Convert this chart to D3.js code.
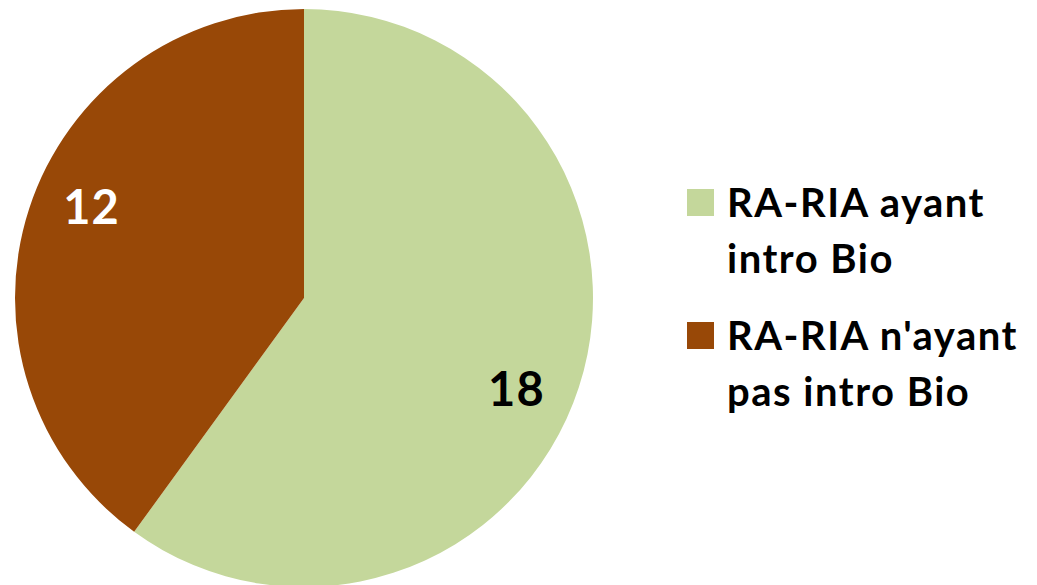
<!DOCTYPE html>
<html>
<head>
  <meta charset="utf-8">
  <script src="https://d3js.org/d3.v7.min.js"></script>
  <style>
    body { margin: 0; background: #fff; }
    text { font-family: Lato, "Open Sans", sans-serif; font-weight: bold; }
  </style>
</head>
<body>
<div id="chart"></div>
<script>
// data
var categories = ["RA-RIA ayant intro Bio", "RA-RIA n'ayant pas intro Bio"];
var values = [18, 12];
var legendLines = [["RA-RIA ayant", "intro Bio"], ["RA-RIA n'ayant", "pas intro Bio"]];
var colors = ["#C4D79B", "#984807"];
var labelColors = ["#000000", "#ffffff"];

var width = 1037, height = 585;
var cx = 304, cy = 298, radius = 289;

var svg = d3.select("#chart")
  .append("svg")
    .attr("width", width)
    .attr("height", height);

var g = svg.append("g")
    .attr("transform", "translate(" + cx + "," + cy + ")");

var pie = d3.pie().sort(null).value(function (d) { return d; });
var arcs = pie(values);

var arc = d3.arc().innerRadius(0).outerRadius(radius);

g.selectAll("path")
  .data(arcs)
  .enter()
  .append("path")
    .attr("d", arc)
    .attr("fill", function (d, i) { return colors[i]; });

// data labels
g.selectAll(".lbl")
  .data(arcs)
  .enter()
  .append("text")
    .attr("class", "lbl")
    .attr("transform", function (d) {
      // small nudge clockwise, like the original placement
      var a = (d.startAngle + d.endAngle) / 2 + 0.09;
      return "translate(" + (231 * Math.sin(a)) + "," + (-231 * Math.cos(a)) + ")";
    })
    .attr("text-anchor", "middle")
    .attr("dy", "0.36em")
    .style("font-size", "47px")
    .style("letter-spacing", "1px")
    .attr("fill", function (d, i) { return labelColors[i]; })
    .text(function (d) { return d.value; });

// legend
var legend = svg.append("g").attr("transform", "translate(687,189)");
var item = legend.selectAll("g")
  .data(categories)
  .enter()
  .append("g")
    .attr("transform", function (d, i) { return "translate(0," + (i * 133) + ")"; });

item.append("rect")
    .attr("width", 27)
    .attr("height", 27)
    .attr("fill", function (d, i) { return colors[i]; });

item.append("text")
    .attr("x", 40)
    .attr("y", 28)
    .style("font-size", "40px")
    .style("letter-spacing", "1.5px")
    .attr("fill", "#000")
  .selectAll("tspan")
  .data(function (d, i) { return legendLines[i]; })
  .enter()
  .append("tspan")
    .attr("x", 40)
    .attr("dy", function (d, j) { return j === 0 ? 0 : 56; })
    .text(function (d) { return d; });
</script>
</body>
</html>
